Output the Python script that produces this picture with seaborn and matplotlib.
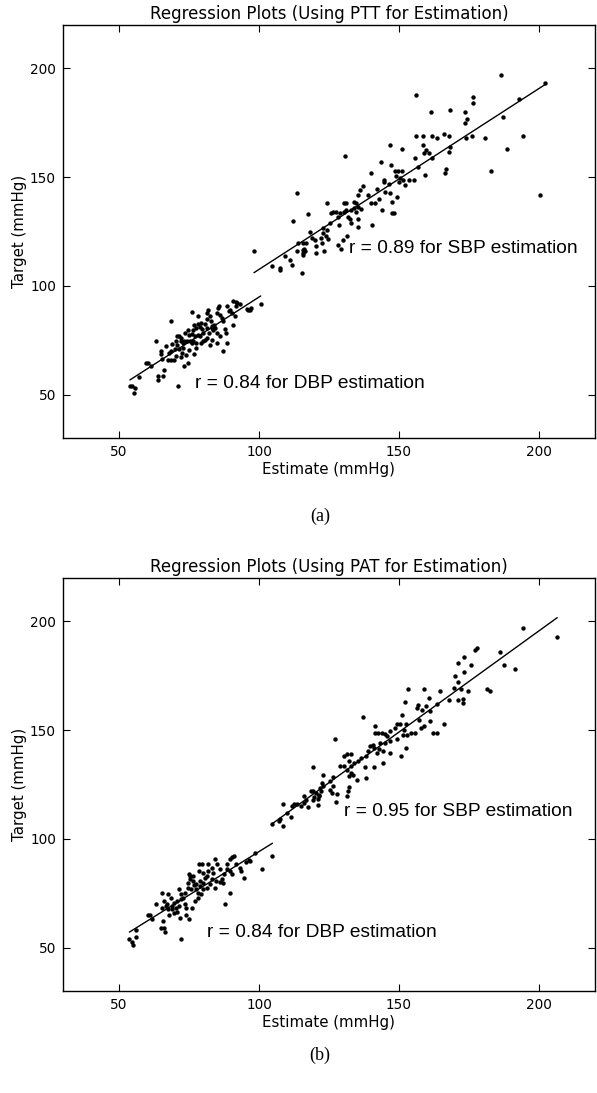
import matplotlib
matplotlib.use("Agg")
import matplotlib.pyplot as plt
import seaborn as sns
import pandas as pd

# ---------------- data ----------------
# Panel (a): PTT based estimation
sbp_a_est = [186.6, 202.2, 192.8, 156.0, 176.5, 176.5, 161.6, 168.3, 173.7, 174.4, 173.6, 187.1,
             156.0, 158.5, 161.9, 163.4, 166.1, 167.9, 174.1, 176.1, 180.6, 194.4, 188.4, 146.7,
             151.1, 158.5, 159.7, 160.6, 158.8, 161.9, 168.3, 168.0, 155.6, 182.8, 166.7, 166.6,
             159.2, 156.9, 130.6, 143.4, 147.1, 140.1, 148.4, 149.6, 151.1, 148.8, 150.4, 151.6,
             153.7, 155.3, 152.0, 150.0, 144.6, 144.7, 146.3, 142.0, 137.1, 136.0, 135.3, 139.0,
             145.1, 146.8, 149.4, 147.6, 140.1, 141.4, 142.8, 143.8, 147.5, 148.3, 200.4, 124.4,
             130.3, 130.9, 134.0, 134.8, 135.4, 134.0, 136.5, 134.8, 132.7, 131.2, 130.3, 128.8,
             127.6, 126.4, 125.8, 131.7, 132.4, 133.0, 135.3, 135.3, 128.2, 128.4, 125.4, 140.4,
             131.5, 129.9, 128.2, 129.3, 123.0, 124.3, 122.8, 123.9, 122.1, 124.6, 122.4, 118.1,
             119.9, 118.9, 120.5, 117.6, 112.1, 113.5, 116.8, 115.6, 114.1, 113.5, 115.6, 115.6,
             116.3, 115.6, 116.0, 120.3, 123.3, 111.0, 109.2, 111.7, 107.6, 107.5, 104.8, 115.2,
             98.2]
sbp_a_tgt = [196.9, 193.1, 186.0, 188.0, 186.8, 184.0, 180.1, 181.0, 179.9, 176.8, 175.0, 177.9,
             168.9, 168.9, 168.9, 168.0, 169.9, 168.9, 168.0, 168.9, 168.0, 168.9, 163.0, 164.9,
             163.0, 164.7, 162.6, 161.0, 160.9, 159.0, 164.1, 161.8, 159.0, 152.9, 153.7, 151.8,
             150.9, 154.9, 159.8, 156.9, 155.8, 151.8, 152.9, 152.9, 152.9, 150.6, 149.8, 148.8,
             148.8, 148.8, 146.2, 147.7, 148.8, 148.0, 146.8, 144.6, 146.0, 143.9, 141.6, 141.9,
             143.0, 142.5, 140.8, 138.8, 138.0, 138.0, 139.9, 134.7, 133.7, 133.7, 141.9, 137.9,
             137.9, 137.9, 138.8, 138.0, 136.5, 136.0, 135.3, 134.2, 134.7, 134.7, 133.9, 133.4,
             133.9, 133.9, 133.4, 131.9, 130.8, 128.8, 130.8, 127.0, 131.9, 127.8, 129.1, 127.8,
             123.0, 120.9, 118.9, 116.9, 126.5, 125.5, 124.2, 123.0, 121.9, 121.5, 119.9, 124.8,
             121.2, 122.0, 118.1, 133.0, 129.9, 142.9, 119.9, 119.9, 119.9, 116.1, 116.6, 115.0,
             115.8, 114.1, 116.9, 115.0, 116.1, 112.0, 113.8, 109.7, 108.1, 107.1, 109.2, 105.8,
             115.8]
dbp_a_est = [53.9, 54.5, 55.8, 55.5, 57.1, 59.8, 60.4, 61.4, 64.1, 65.7, 63.8, 66.2, 71.2, 63.1,
             64.9, 64.9, 65.3, 66.8, 67.8, 67.5, 68.6, 69.6, 70.5, 68.4, 69.9, 68.6, 69.0, 70.8,
             70.6, 71.4, 72.3, 72.1, 72.7, 73.3, 71.4, 72.4, 72.3, 73.3, 74.8, 74.1, 74.3, 75.5,
             76.1, 75.1, 76.0, 76.6, 77.6, 77.6, 77.3, 78.3, 76.3, 76.9, 76.1, 78.2, 78.2, 79.0,
             79.8, 80.0, 79.0, 80.0, 79.4, 80.6, 81.5, 82.0, 81.3, 80.6, 81.5, 81.6, 82.5, 82.8,
             83.3, 83.9, 84.3, 83.7, 84.9, 86.2, 84.9, 85.5, 84.9, 85.7, 86.2, 86.8, 87.1, 87.7,
             88.2, 88.6, 87.1, 88.6, 89.2, 89.8, 90.5, 91.3, 90.8, 91.9, 90.7, 91.7, 92.3, 93.2,
             95.7, 96.2, 96.9, 97.2, 100.6, 83.1, 82.5, 76.9, 75.1, 73.0, 79.4, 77.6, 74.5, 73.5,
             70.2, 83.1, 81.8]
dbp_a_tgt = [54.1, 54.1, 52.9, 50.9, 58.0, 64.7, 64.7, 63.2, 58.6, 58.6, 56.8, 61.4, 53.7, 74.7,
             69.8, 68.6, 66.3, 72.5, 69.0, 66.0, 66.0, 66.0, 67.5, 69.8, 71.0, 83.9, 73.2, 72.9,
             76.7, 76.7, 76.2, 74.7, 73.6, 74.4, 71.0, 69.3, 67.2, 62.9, 64.7, 68.0, 74.7, 74.7,
             77.9, 77.5, 73.9, 74.4, 71.6, 73.9, 76.7, 77.5, 79.8, 82.1, 88.0, 85.9, 82.4, 81.0,
             80.1, 78.5, 76.7, 74.4, 73.6, 75.2, 76.2, 78.2, 80.5, 82.5, 84.7, 87.4, 85.9, 83.6,
             81.6, 82.1, 80.5, 79.5, 78.2, 77.0, 73.9, 90.0, 87.4, 90.5, 86.6, 85.1, 83.6, 80.0,
             78.5, 73.9, 69.8, 90.8, 88.2, 89.0, 87.4, 86.2, 82.1, 90.5, 92.9, 92.4, 92.1, 91.7,
             89.3, 88.7, 89.0, 89.7, 91.7, 74.9, 72.9, 68.8, 70.6, 71.4, 83.1, 80.5, 79.8, 78.2,
             74.4, 80.5, 89.0]

# Panel (b): PAT based estimation
sbp_b_est = [206.5, 194.2, 186.0, 187.6, 191.3, 177.2, 178.0, 173.1, 171.0, 175.6, 173.1, 170.1,
             171.0, 169.5, 172.2, 174.8, 181.5, 182.4, 164.6, 167.7, 171.0, 172.9, 172.9, 153.3,
             159.1, 160.6, 152.1, 156.9, 156.4, 159.5, 158.3, 161.0, 163.4, 151.1, 157.2, 161.0,
             158.8, 157.9, 165.9, 162.2, 163.4, 155.8, 154.2, 149.3, 150.3, 152.4, 148.7, 151.5,
             152.9, 151.7, 137.3, 141.3, 141.3, 142.5, 143.8, 145.0, 146.8, 145.6, 149.3, 146.8,
             145.0, 143.2, 140.7, 139.5, 141.1, 142.8, 144.4, 142.0, 146.8, 152.6, 150.7, 139.0,
             136.4, 138.2, 135.2, 132.7, 131.5, 130.3, 132.2, 134.0, 132.7, 130.3, 129.1, 131.5,
             132.7, 133.6, 132.3, 134.9, 138.2, 141.1, 144.4, 137.9, 127.2, 126.6, 125.4, 126.6,
             125.4, 126.0, 132.3, 131.7, 127.8, 127.5, 131.5, 122.7, 122.6, 121.7, 122.9, 122.3,
             119.2, 120.5, 121.5, 119.2, 118.6, 119.8, 121.0, 119.2, 121.0, 116.2, 116.8, 116.0,
             113.7, 112.5, 111.9, 115.0, 117.6, 108.5, 110.0, 111.5, 107.6, 107.2, 104.5, 108.5,
             121.3]
sbp_b_tgt = [192.7, 196.8, 185.8, 179.8, 178.0, 186.9, 187.6, 183.8, 180.7, 179.8, 176.9, 174.9,
             172.3, 169.6, 169.1, 168.0, 169.1, 168.0, 168.0, 163.9, 163.9, 164.2, 162.7, 169.1,
             169.1, 165.0, 163.0, 161.6, 160.1, 160.9, 159.3, 159.0, 162.1, 157.0, 154.7, 154.0,
             152.1, 151.2, 152.9, 148.9, 148.9, 148.9, 148.6, 152.9, 152.9, 152.9, 150.9, 147.9,
             147.9, 150.1, 156.0, 152.1, 148.9, 148.9, 148.9, 148.2, 149.7, 147.1, 146.0, 144.8,
             144.0, 144.3, 143.3, 142.5, 141.7, 141.3, 140.2, 139.4, 139.4, 141.7, 137.9, 140.2,
             137.2, 137.9, 135.6, 139.1, 139.1, 137.9, 135.6, 134.9, 133.6, 133.3, 133.3, 131.8,
             130.3, 129.5, 128.7, 127.2, 128.0, 133.0, 134.9, 133.0, 146.0, 128.4, 126.5, 124.2,
             122.6, 121.1, 123.9, 121.9, 120.4, 116.8, 119.9, 129.5, 125.7, 123.4, 124.2, 121.9,
             132.9, 121.1, 120.3, 122.2, 121.9, 119.3, 118.3, 117.7, 115.7, 119.6, 118.0, 116.5,
             116.1, 116.1, 115.0, 115.3, 114.7, 116.1, 111.9, 109.9, 109.2, 108.1, 106.9, 105.8,
             119.6]
dbp_b_est = [53.7, 54.5, 54.9, 56.1, 56.1, 60.2, 61.0, 61.9, 63.2, 65.1, 65.9, 66.5, 65.7, 65.3,
             67.5, 68.4, 65.9, 67.2, 67.5, 69.0, 66.8, 68.8, 69.6, 70.2, 71.4, 70.8, 72.1, 72.1,
             71.4, 70.6, 71.7, 73.9, 74.9, 76.1, 72.1, 73.0, 73.7, 74.5, 74.5, 75.4, 75.5, 75.1,
             76.3, 76.6, 76.7, 75.8, 77.6, 78.2, 78.2, 79.4, 78.8, 77.6, 78.8, 78.6, 78.6, 79.8,
             80.0, 80.6, 80.0, 80.0, 81.3, 81.5, 81.9, 81.9, 83.1, 83.5, 83.1, 84.7, 84.3, 84.9,
             85.9, 86.8, 86.2, 87.1, 87.4, 88.0, 89.8, 88.4, 88.6, 89.6, 90.5, 91.1, 89.8, 90.5,
             91.7, 93.3, 93.5, 94.7, 95.3, 96.3, 96.9, 98.4, 101.1, 104.8, 69.6, 73.5, 77.0, 82.5,
             84.3, 73.9, 68.0, 65.3]
dbp_b_tgt = [54.1, 52.6, 51.1, 55.0, 58.1, 64.8, 64.8, 63.0, 69.9, 59.2, 59.2, 57.2, 62.2, 75.2,
             74.8, 72.9, 71.4, 69.9, 67.6, 67.6, 69.1, 69.1, 70.6, 68.3, 69.1, 71.4, 72.2, 74.5,
             76.8, 66.4, 63.8, 64.8, 63.0, 68.3, 54.1, 73.0, 75.2, 77.5, 79.8, 81.3, 82.9, 83.6,
             82.9, 80.6, 78.6, 76.8, 76.8, 75.2, 72.9, 74.5, 78.3, 79.1, 80.6, 85.1, 88.2, 88.2,
             84.4, 82.1, 79.8, 76.8, 77.2, 82.9, 85.1, 88.6, 86.7, 84.4, 81.3, 80.6, 90.7, 88.6,
             85.9, 81.7, 80.1, 79.8, 83.7, 69.9, 75.2, 85.9, 88.2, 90.8, 91.6, 92.0, 85.1, 83.6,
             88.6, 86.7, 85.1, 82.1, 89.4, 90.3, 89.8, 93.3, 86.1, 92.0, 66.1, 69.9, 71.4, 79.1,
             77.5, 68.3, 65.1, 68.3]

titles = ["Regression Plots (Using PTT for Estimation)",
          "Regression Plots (Using PAT for Estimation)"]
captions = ["(a)", "(b)"]
sbp_labels = ["r = 0.89 for SBP estimation", "r = 0.95 for SBP estimation"]
dbp_labels = ["r = 0.84 for DBP estimation", "r = 0.84 for DBP estimation"]
sbp_label_pos = [(132, 117), (130.5, 112.5)]
dbp_label_pos = [(77, 55), (81.5, 57)]
ticks = [50, 100, 150, 200]
limits = (30, 220)

# ---------------- styling ----------------
sns.set_style("ticks", {"xtick.direction": "in", "ytick.direction": "in",
                        "axes.edgecolor": "black", "text.color": "black",
                        "axes.labelcolor": "black", "xtick.color": "black",
                        "ytick.color": "black"})
plt.rcParams["font.family"] = ["DejaVu Sans"]
plt.rcParams["text.color"] = "black"

fig = plt.figure(figsize=(5.97, 10.93), dpi=100)
ax_a = fig.add_axes([63 / 597, 1 - 438 / 1093, 532 / 597, 413 / 1093])
ax_b = fig.add_axes([63 / 597, 1 - 991 / 1093, 532 / 597, 413 / 1093])

panels = [
    (ax_a, sbp_a_est, sbp_a_tgt, dbp_a_est, dbp_a_tgt),
    (ax_b, sbp_b_est, sbp_b_tgt, dbp_b_est, dbp_b_tgt),
]

for i, (ax, sx, sy, dx, dy) in enumerate(panels):
    for xs, ys in [(sx, sy), (dx, dy)]:
        df = pd.DataFrame({"est": xs, "tgt": ys})
        sns.regplot(data=df, x="est", y="tgt", ax=ax, ci=None, truncate=True,
                    scatter_kws=dict(s=10, color="black", linewidths=0, alpha=1),
                    line_kws=dict(color="black", lw=1.0))
    ax.set_xlim(*limits)
    ax.set_ylim(*limits)
    ax.set_xticks(ticks)
    ax.set_yticks(ticks)
    ax.tick_params(which="both", direction="in", top=True, right=True,
                   length=5, width=0.8, labelsize=9.8, colors="black", pad=5)
    for sp in ax.spines.values():
        sp.set_visible(True)
        sp.set_linewidth(1.0)
        sp.set_color("black")
    ax.set_xlabel("Estimate (mmHg)", fontsize=10.8, labelpad=2, color="black")
    ax.set_ylabel("Target (mmHg)", fontsize=10.8, labelpad=2, color="black")
    ax.set_title(titles[i], fontsize=12, pad=4, color="black")
    ax.text(sbp_label_pos[i][0], sbp_label_pos[i][1], sbp_labels[i], color="black",
            fontsize=13.8, family=["Liberation Sans", "DejaVu Sans"], va="center", ha="left")
    ax.text(dbp_label_pos[i][0], dbp_label_pos[i][1], dbp_labels[i], color="black",
            fontsize=13.8, family=["Liberation Sans", "DejaVu Sans"], va="center", ha="left")

fig.text(320 / 597, 1 - 516 / 1093, captions[0], ha="center", va="center", color="black",
         fontsize=13, family=["Liberation Serif", "DejaVu Serif"])
fig.text(320 / 597, 1 - 1055 / 1093, captions[1], ha="center", va="center", color="black",
         fontsize=13, family=["Liberation Serif", "DejaVu Serif"])

fig.savefig("out.png", dpi=100, facecolor="white")
